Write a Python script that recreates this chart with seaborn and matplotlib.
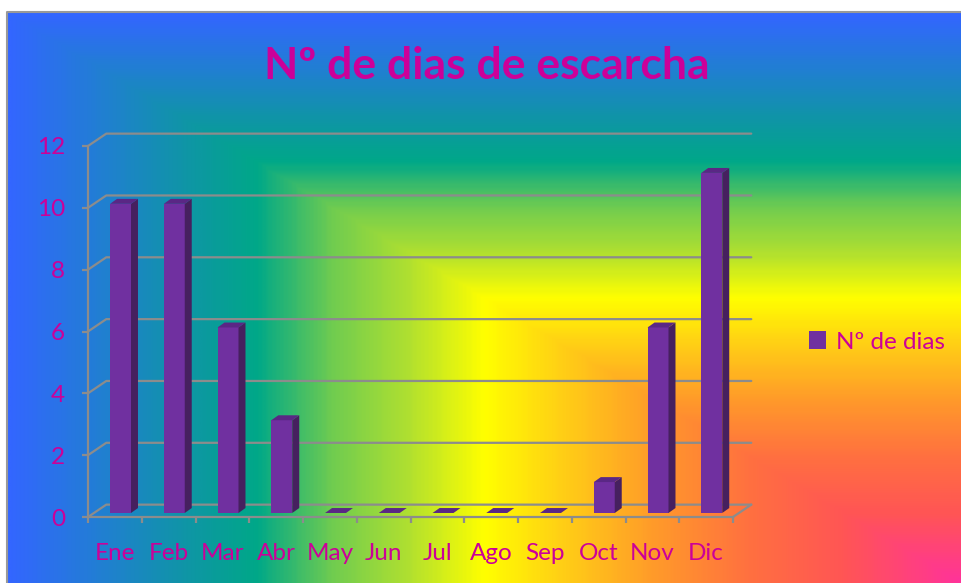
import numpy as np
import pandas as pd
import matplotlib
matplotlib.use('Agg')
import matplotlib.pyplot as plt
from matplotlib.colors import LinearSegmentedColormap
from matplotlib.patches import Polygon
from matplotlib.lines import Line2D
import seaborn as sns

# datos
meses = ['Ene', 'Feb', 'Mar', 'Abr', 'May', 'Jun', 'Jul', 'Ago', 'Sep', 'Oct', 'Nov', 'Dic']
dias = [10, 10, 6, 3, 0, 0, 0, 0, 0, 1, 6, 11]
serie = 'Nº de dias'
titulo = 'Nº de dias de escarcha'
y_ticks = [0, 2, 4, 6, 8, 10, 12]

df = pd.DataFrame({'mes': meses, 'dias': dias})

sns.set_style('ticks')
plt.rcParams['font.family'] = ['Lato', 'DejaVu Sans']

magenta = '#CC0099'
gris = '#8C8C8C'
morado = '#7030A0'

W, H = 961, 583
fig = plt.figure(figsize=(W / 100, H / 100), dpi=100)
fig.patch.set_facecolor('white')

# ---------------------------
# fondo degradado (desde la esquina inferior derecha)
# ---------------------------
bg = fig.add_axes([8 / W, 0, (W - 8) / W, (H - 13) / H], zorder=0)
gw, gh = 480, 290
u = 1 - np.linspace(0, 1, gw)[None, :]
v = 1 - np.linspace(0, 1, gh)[:, None]
t = np.maximum(u, v)
stops = [(0.00, '#FF3399'), (0.12, '#FF5555'), (0.22, '#FF7040'),
         (0.32, '#FF9A2A'), (0.42, '#FFD015'), (0.50, '#FFFF00'),
         (0.58, '#B0E030'), (0.66, '#70CC50'), (0.74, '#00A888'),
         (0.82, '#1094A8'), (0.90, '#2080D0'), (1.00, '#3366FF')]
cmap = LinearSegmentedColormap.from_list('arcoiris', stops)
bg.imshow(t, cmap=cmap, vmin=0, vmax=1, aspect='auto',
          interpolation='bilinear', extent=[0, 1, 0, 1])
bg.axis('off')

fig.add_artist(Line2D([7 / W, 7 / W, 1], [0, (H - 12) / H, (H - 12) / H],
                      color='#999999', lw=1.5))

# ---------------------------
# grafico de barras
# ---------------------------
ax = fig.add_axes([88 / W, (H - 517) / H, 645 / W, 371 / H], zorder=1)
ax.set_facecolor('none')

sns.barplot(data=df, x='mes', y='dias', color=morado, saturation=1,
            width=0.39, label=serie, ax=ax, zorder=3)
if ax.get_legend() is not None:
    ax.get_legend().remove()

ax.set_xlim(-0.5, 11.5)
ax.set_ylim(0, 12)

DX, DY = 0.34, 0.40      # profundidad de las paredes
bdx, bdy = 0.13, 0.16    # profundidad de las barras
base = 0.13

for p in ax.patches:
    p.set_x(p.get_x() + 0.105)
    p.set_y(base)
    p.set_edgecolor('none')
    x0 = p.get_x()
    x1 = x0 + p.get_width()
    y1 = base + p.get_height()
    lado = Polygon([(x1, base), (x1 + bdx, base + bdy), (x1 + bdx, y1 + bdy), (x1, y1)],
                   closed=True, facecolor='#46205F', edgecolor='none', zorder=3, clip_on=False)
    tapa = Polygon([(x0, y1), (x1, y1), (x1 + bdx, y1 + bdy), (x0 + bdx, y1 + bdy)],
                   closed=True, facecolor='#5A2785', edgecolor='none', zorder=3, clip_on=False)
    ax.add_patch(lado)
    ax.add_patch(tapa)

# paredes y rejilla
for yv in y_ticks:
    ax.plot([-0.5, -0.5 + DX, 11.5 + DX], [yv, yv + DY, yv + DY],
            color=gris, lw=1.6, clip_on=False, zorder=0.5)
ax.plot([11.5, 11.5 + DX], [0, DY], color=gris, lw=1.6, clip_on=False, zorder=0.5)

for s in ['top', 'right']:
    ax.spines[s].set_visible(False)
for s in ['left', 'bottom']:
    ax.spines[s].set_color(gris)
    ax.spines[s].set_linewidth(1.6)

ax.set_yticks(y_ticks)
ax.set_xticks(range(len(meses)), meses)
ax.set_xticks(np.arange(-0.5, 12, 1), minor=True)
ax.tick_params(axis='y', length=4.5, width=1.6, color=gris, pad=12,
               labelsize=17.5, labelcolor=magenta)
ax.tick_params(axis='x', which='major', length=0, pad=19,
               labelsize=17.5, labelcolor=magenta)
ax.tick_params(axis='x', which='minor', length=4.5, width=1.6, color=gris)
ax.set_xlabel('')
ax.set_ylabel('')

# titulo y leyenda
fig.text(487 / W, (H - 66) / H, titulo, ha='center', va='center',
         fontsize=32, fontweight='bold', color=magenta)

handles, labels = ax.get_legend_handles_labels()
fig.legend(handles[:1], labels[:1], loc='center left',
           bbox_to_anchor=(809 / W, (H - 342) / H), frameon=False,
           fontsize=17.5, labelcolor=magenta, handlelength=0.7,
           handleheight=0.7, handletextpad=0.4, borderpad=0, borderaxespad=0)

fig.savefig('out.png', dpi=100)
